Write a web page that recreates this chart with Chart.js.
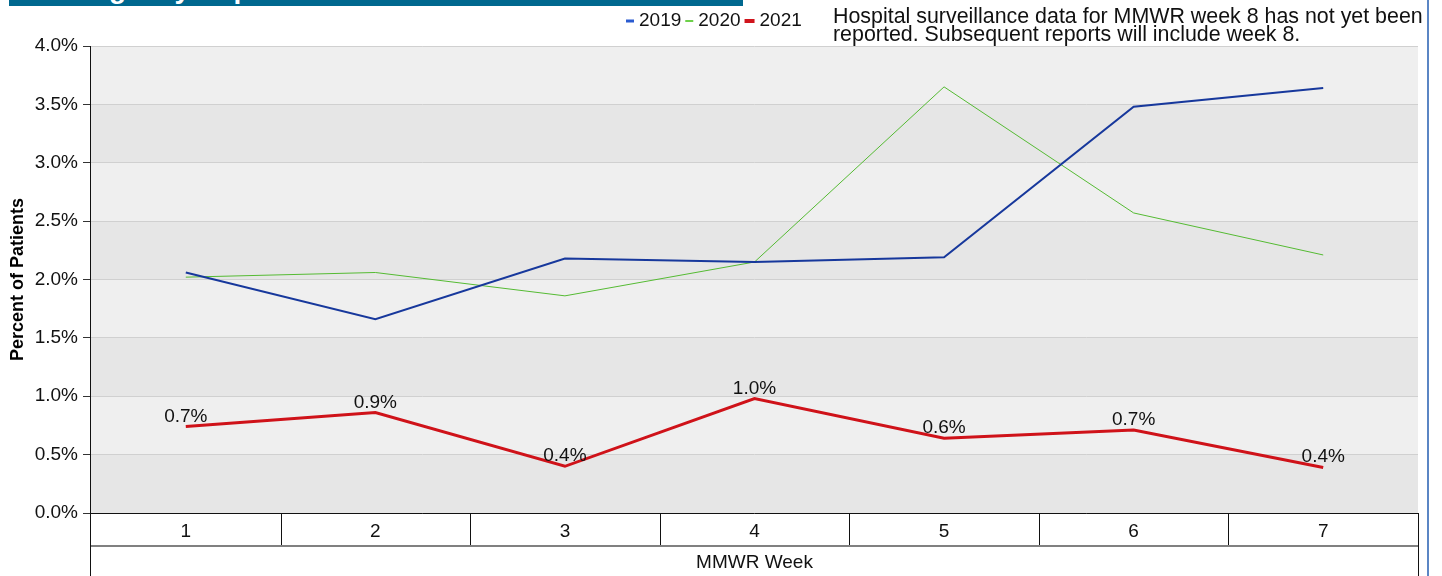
<!DOCTYPE html>
<html>
<head>
<meta charset="utf-8">
<script src="https://cdn.jsdelivr.net/npm/chart.js@4/dist/chart.umd.min.js"></script>
<style>
  body { margin: 0; background: #fff; }
  #wrap { position: relative; width: 1442px; height: 576px; overflow: hidden; }
  #titlebar {
    position: absolute; left: 9px; top: 0; width: 734px; height: 6px;
    background: #00688f; overflow: hidden;
  }
  #titlebar span {
    position: absolute; left: 30px; top: -25px; white-space: nowrap;
    font: bold 28px "Liberation Sans", Arial, sans-serif; color: #fff;
    line-height: 28px;
  }
  #note {
    position: absolute; left: 833px; top: 7px; width: 605px;
    font: 21.4px "Liberation Sans", Arial, sans-serif; color: #111; line-height: 18px;
  }
  #frame { position: absolute; left: 1427px; top: 0; width: 2px; height: 576px; background: #5b86c4; }
  canvas { position: absolute; left: 0; top: 0; }
</style>
</head>
<body>
<div id="wrap">
  <canvas id="chart" width="1442" height="576"></canvas>
  <div id="titlebar"><span>Emergency Department Visits</span></div>
  <div id="note">Hospital surveillance data for MMWR week 8 has not yet been<br>reported. Subsequent reports will include week 8.</div>
  <div id="frame"></div>
</div>
<script>
const weeks = ["1", "2", "3", "4", "5", "6", "7"]
const pct2019 = [2.06, 1.66, 2.18, 2.15, 2.19, 3.48, 3.64]
const pct2020 = [2.02, 2.06, 1.86, 2.15, 3.65, 2.57, 2.21]
const pct2021 = [0.74, 0.86, 0.40, 0.98, 0.64, 0.71, 0.39]

const FONT = '"Liberation Sans", Arial, sans-serif'

// alternating grey bands every 0.5%
const bandsPlugin = {
  id: "bands",
  beforeDraw(chart) {
    const { ctx, chartArea: a, scales: { y } } = chart
    ctx.save()
    for (let v = 0, i = 0; v < 4; v += 0.5, i++) {
      const top = y.getPixelForValue(v + 0.5)
      const bottom = y.getPixelForValue(v)
      ctx.fillStyle = i % 2 === 0 ? "#e6e6e6" : "#efefef"
      ctx.fillRect(a.left, top, a.right - a.left, bottom - top)
    }
    ctx.restore()
  }
}

// category table under the plot, axis line and the "MMWR Week" box
const tablePlugin = {
  id: "table",
  afterDraw(chart) {
    const { ctx, chartArea: a } = chart
    const rowBottom = a.bottom + 33
    const H = chart.height
    ctx.save()
    ctx.strokeStyle = "#111"
    ctx.lineWidth = 1
    ctx.beginPath()
    ctx.moveTo(a.left, a.bottom + 0.5)
    ctx.lineTo(a.right, a.bottom + 0.5)
    ctx.moveTo(a.left - 0.5, a.top)
    ctx.lineTo(a.left - 0.5, H)
    ctx.moveTo(a.right + 0.5, a.bottom)
    ctx.lineTo(a.right + 0.5, H)
    const step = (a.right - a.left) / weeks.length
    for (let i = 1; i < weeks.length; i++) {
      const px = Math.round(a.left + step * i) + 0.5
      ctx.moveTo(px, a.bottom)
      ctx.lineTo(px, rowBottom)
    }
    ctx.stroke()
    ctx.strokeStyle = "#808080"
    ctx.lineWidth = 2
    ctx.beginPath()
    ctx.moveTo(a.left, rowBottom)
    ctx.lineTo(a.right, rowBottom)
    ctx.stroke()
    ctx.fillStyle = "#111"
    ctx.font = "19px " + FONT
    ctx.textAlign = "center"
    ctx.textBaseline = "middle"
    ctx.fillText("MMWR Week", (a.left + a.right) / 2, rowBottom + 17)
    ctx.restore()
  }
}

// value labels above the 2021 line
const labelsPlugin = {
  id: "valueLabels",
  afterDatasetsDraw(chart) {
    const { ctx } = chart
    const meta = chart.getDatasetMeta(2)
    ctx.save()
    ctx.fillStyle = "#111"
    ctx.font = "19px " + FONT
    ctx.textAlign = "center"
    ctx.textBaseline = "alphabetic"
    meta.data.forEach((pt, i) => {
      ctx.fillText(pct2021[i].toFixed(1) + "%", pt.x, pt.y - 5)
    })
    ctx.restore()
  }
}

// small legend at the top, ending near x=800
const legendPlugin = {
  id: "topLegend",
  afterDraw(chart) {
    const { ctx } = chart
    ctx.save()
    ctx.font = "19px " + FONT
    ctx.textBaseline = "middle"
    let x = 626
    const y = 21
    chart.data.datasets.forEach(ds => {
      const w = ds.borderWidth > 2 ? 10 : 8
      ctx.strokeStyle = ds.legendColor
      ctx.lineWidth = ds.borderWidth + 1
      ctx.beginPath()
      ctx.moveTo(x, y)
      ctx.lineTo(x + w, y)
      ctx.stroke()
      x += w + 5
      ctx.fillStyle = "#111"
      ctx.fillText(ds.label, x, y)
      x += ctx.measureText(ds.label).width + 4
    })
    ctx.restore()
  }
}

new Chart(document.getElementById("chart"), {
  type: "line",
  data: {
    labels: weeks,
    datasets: [
      { label: "2019", data: pct2019, borderColor: "#17389c", legendColor: "#2a5bd0", borderWidth: 2, pointRadius: 0, tension: 0 },
      { label: "2020", data: pct2020, borderColor: "#55bb33", legendColor: "#6dd04a", borderWidth: 1, pointRadius: 0, tension: 0 },
      { label: "2021", data: pct2021, borderColor: "#cf1219", legendColor: "#d0141c", borderWidth: 3, pointRadius: 0, tension: 0 }
    ]
  },
  options: {
    responsive: false,
    animation: false,
    layout: { padding: { left: 0, right: 24, top: 46, bottom: 0 } },
    plugins: {
      legend: { display: false },
      tooltip: { enabled: false }
    },
    scales: {
      x: {
        offset: true,
        grid: { display: false, drawTicks: false },
        border: { display: false },
        ticks: { color: "#111", font: { size: 19, family: FONT }, padding: 7 },
        afterFit: s => { s.height = 63 }
      },
      y: {
        min: 0,
        max: 4,
        border: { display: false },
        grid: { color: "#d0d0d0", tickColor: "#333", tickLength: 8 },
        ticks: {
          stepSize: 0.5,
          color: "#111",
          padding: 5,
          font: { size: 19, family: FONT },
          callback: v => v.toFixed(1) + "%"
        },
        title: {
          display: true,
          text: "Percent of Patients",
          color: "#000",
          font: { size: 18, weight: "bold", family: FONT },
          padding: { top: 7, bottom: 0 }
        },
        afterFit: s => { s.width = 91 }
      }
    }
  },
  plugins: [bandsPlugin, tablePlugin, labelsPlugin, legendPlugin]
})
</script>
</body>
</html>
